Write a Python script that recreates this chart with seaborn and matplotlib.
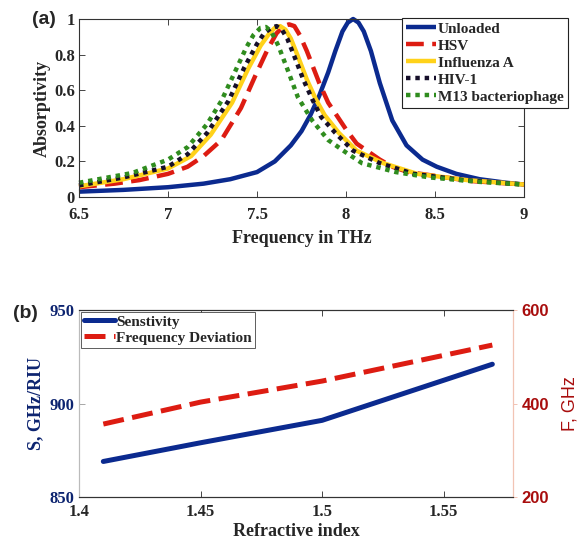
import matplotlib
matplotlib.use("Agg")
import matplotlib.pyplot as plt
import seaborn as sns

# ---------------- data (a) ----------------
f_unloaded = [6.5, 6.75, 7.0, 7.2, 7.35, 7.5, 7.6, 7.69, 7.75, 7.8, 7.85, 7.9, 7.94, 7.98, 8.01, 8.04,
              8.07, 8.1, 8.14, 8.19, 8.26, 8.34, 8.43, 8.51, 8.62, 8.75, 8.9, 9.0]
a_unloaded = [0.03, 0.04, 0.055, 0.075, 0.10, 0.14, 0.20, 0.29, 0.37, 0.46, 0.57, 0.70, 0.82, 0.93, 0.98, 1.0,
              0.98, 0.93, 0.82, 0.64, 0.43, 0.29, 0.21, 0.17, 0.13, 0.10, 0.08, 0.07]

f_hsv = [6.5, 6.7, 6.84, 7.0, 7.11, 7.2, 7.3, 7.41, 7.49, 7.56, 7.61, 7.65, 7.68, 7.71, 7.74, 7.78,
         7.85, 7.9, 8.0, 8.06, 8.19, 8.26, 8.35, 8.49, 8.7, 9.0]
a_hsv = [0.055, 0.075, 0.095, 0.13, 0.17, 0.23, 0.32, 0.50, 0.68, 0.83, 0.92, 0.96, 0.97, 0.96, 0.91, 0.82,
         0.64, 0.53, 0.38, 0.30, 0.21, 0.17, 0.14, 0.12, 0.09, 0.07]

f_flu = [6.5, 6.75, 7.0, 7.13, 7.24, 7.36, 7.45, 7.52, 7.57, 7.6, 7.63, 7.66, 7.69, 7.73, 7.78, 7.83,
         7.88, 7.96, 8.06, 8.21, 8.4, 8.68, 9.0]
a_flu = [0.06, 0.10, 0.16, 0.23, 0.35, 0.53, 0.72, 0.85, 0.92, 0.95, 0.96, 0.94, 0.89, 0.79, 0.66, 0.55,
         0.46, 0.36, 0.26, 0.19, 0.13, 0.095, 0.07]

f_hiv = [6.5, 6.75, 7.0, 7.11, 7.22, 7.34, 7.43, 7.5, 7.54, 7.58, 7.61, 7.64, 7.67, 7.71, 7.76, 7.81,
         7.86, 7.94, 8.04, 8.19, 8.38, 8.66, 9.0]
a_hiv = [0.065, 0.11, 0.17, 0.24, 0.36, 0.54, 0.73, 0.86, 0.92, 0.95, 0.96, 0.94, 0.89, 0.79, 0.66, 0.55,
         0.45, 0.36, 0.26, 0.19, 0.13, 0.095, 0.07]

f_m13 = [6.5, 6.8, 7.0, 7.11, 7.22, 7.3, 7.37, 7.44, 7.48, 7.52, 7.55, 7.58, 7.62, 7.67, 7.73, 7.81,
         7.9, 8.0, 8.09, 8.28, 8.47, 8.75, 9.0]
a_m13 = [0.08, 0.135, 0.21, 0.28, 0.41, 0.54, 0.69, 0.84, 0.91, 0.95, 0.955, 0.93, 0.85, 0.72, 0.56, 0.43,
         0.32, 0.25, 0.19, 0.14, 0.11, 0.085, 0.07]

labels_a = ["Unloaded", "HSV", "Influenza A", "HIV-1", "M13 bacteriophage"]

# ---------------- data (b) ----------------
n_index = [1.41, 1.45, 1.5, 1.57]
sensitivity = [869, 879, 891, 921]
freq_dev = [356, 403, 448, 525]
labels_b = ["Senstivity", "Frequency Deviation"]

xticks_a = [6.5, 7, 7.5, 8, 8.5, 9]
yticks_a = [0, 0.2, 0.4, 0.6, 0.8, 1]
xticks_b = [1.4, 1.45, 1.5, 1.55]
yticks_b_left = [850, 900, 950]
yticks_b_right = [200, 400, 600]

# ---------------- style ----------------
sns.set_style("ticks")
plt.rcParams["font.family"] = ["Liberation Serif", "DejaVu Serif"]
plt.rcParams["font.weight"] = "bold"
plt.rcParams["axes.labelweight"] = "bold"

fig = plt.figure(figsize=(5.82, 5.51), dpi=100)
W, H = 582, 551
def rect(x0, y0, x1, y1):
    return [x0 / W, 1 - y1 / H, (x1 - x0) / W, (y1 - y0) / H]

ax1 = fig.add_axes(rect(79, 19, 524, 197))
ax2 = fig.add_axes(rect(79, 310, 513, 497))

navy = "#0b2a8f"
red = "#dd1c12"
yellow = "#ffd21a"
black = "#160f2a"
green = "#2f8c1e"

specs = [
    (f_unloaded, a_unloaded, navy, None),
    (f_hsv, a_hsv, red, (4.0, 1.9)),
    (f_flu, a_flu, yellow, None),
    (f_hiv, a_hiv, black, (1.0, 1.1)),
    (f_m13, a_m13, green, (1.0, 1.1)),
]
handles = []
for (fx, ay, c, d), lab in zip(specs, labels_a):
    sns.lineplot(x=fx, y=ay, ax=ax1, color=c, linewidth=3.2, sort=False, estimator=None)
    ln = ax1.lines[-1]
    ln.set_clip_on(False)
    if d is not None:
        ln.set_dashes(d)
    ln.set_solid_capstyle("butt")
    ln.set_dash_capstyle("butt")
    ln.set_solid_joinstyle("round")
    ln.set_label(lab)
    handles.append(ln)

ax1.set_xlim(6.5, 9)
ax1.set_ylim(0, 1)
ax1.set_xticks(xticks_a)
ax1.set_xticklabels([f"{v:g}" for v in xticks_a])
ax1.set_yticks(yticks_a)
ax1.set_yticklabels([f"{v:g}" for v in yticks_a])
ax1.tick_params(direction="in", top=True, right=True, labelsize=12, length=4, width=0.6)
ax1.tick_params(axis="x", pad=7)
ax1.tick_params(axis="y", pad=3)
for s in ax1.spines.values():
    s.set_linewidth(0.8)
    s.set_color("#333333")
ax1.set_xlabel("Frequency in THz", fontsize=13, labelpad=5)
ax1.set_ylabel("Absorptivity", fontsize=13, labelpad=2)

leg = ax1.legend(handles=handles, loc="upper left", bbox_to_anchor=(0.726, 1.005),
                 prop={"family": "Liberation Serif", "weight": "bold", "size": 11},
                 frameon=True, fancybox=False, edgecolor="#222222", framealpha=1,
                 handlelength=2.0, handletextpad=0.1, labelspacing=0.22, borderpad=0.25,
                 borderaxespad=0.0)
leg.get_frame().set_linewidth(0.8)

# ---------------- panel (b) ----------------
dnavy = "#0d2470"
dred = "#a80d0d"
sns.lineplot(x=n_index, y=sensitivity, ax=ax2, color=navy, linewidth=3.6, sort=False, estimator=None)
l1 = ax2.lines[-1]
l1.set_label(labels_b[0])
ax2r = ax2.twinx()
sns.lineplot(x=n_index, y=freq_dev, ax=ax2r, color=red, linewidth=3.6, sort=False, estimator=None)
l2 = ax2r.lines[-1]
l2.set_dashes((4.2, 1.7))
l2.set_label(labels_b[1])

ax2.set_xlim(1.4, 1.5785)
ax2.set_ylim(850, 950)
ax2r.set_ylim(200, 600)
ax2.set_xticks(xticks_b)
ax2.set_xticklabels([f"{v:g}" for v in xticks_b])
ax2.set_yticks(yticks_b_left)
ax2.set_yticklabels([str(v) for v in yticks_b_left], color=dnavy)
ax2r.set_yticks(yticks_b_right)
ax2r.set_yticklabels([str(v) for v in yticks_b_right], color=dred,
                     family="Liberation Sans", fontweight="bold")
ax2.tick_params(axis="x", direction="in", top=True, labelsize=12, length=4, width=0.6, pad=5)
ax2.tick_params(axis="y", direction="in", labelsize=12, length=4, width=0.6, pad=3, color="#999999")
ax2r.tick_params(axis="y", direction="out", labelsize=12, length=3, width=0.6, pad=3, color="#f0b8a8")
for a in (ax2, ax2r):
    a.spines["top"].set_color("#333333")
    a.spines["bottom"].set_color("#333333")
    a.spines["left"].set_color("#bbbbbb")
    a.spines["right"].set_color("#f2c4b4")
    for s in a.spines.values():
        s.set_linewidth(0.8)
ax2.set_ylabel("S, GHz/RIU", fontsize=13, color=dnavy, labelpad=4)
ax2r.set_ylabel("F, GHz", fontsize=13, color=dred, family="Liberation Sans",
                fontweight="normal", labelpad=9)
ax2.set_xlabel("Refractive index", fontsize=13, labelpad=2)

leg2 = ax2.legend(handles=[l1, l2], loc="upper left", bbox_to_anchor=(0.005, 0.99),
                  prop={"family": "Liberation Serif", "weight": "bold", "size": 11},
                  frameon=True, fancybox=False, edgecolor="#444444", framealpha=1,
                  handlelength=2.0, handletextpad=0.1, labelspacing=0.15, borderpad=0.2,
                  borderaxespad=0.0)
leg2.get_frame().set_linewidth(0.6)
ax2.set_zorder(ax2r.get_zorder() + 1)
ax2.patch.set_visible(False)

# panel labels
fig.text(32 / W, 1 - 20 / H, "(a)", family="Liberation Sans", fontweight="bold", fontsize=14,
         va="center", ha="left")
fig.text(13 / W, 1 - 313 / H, "(b)", family="Liberation Sans", fontweight="bold", fontsize=14,
         va="center", ha="left")

fig.savefig("out.png", dpi=100)
